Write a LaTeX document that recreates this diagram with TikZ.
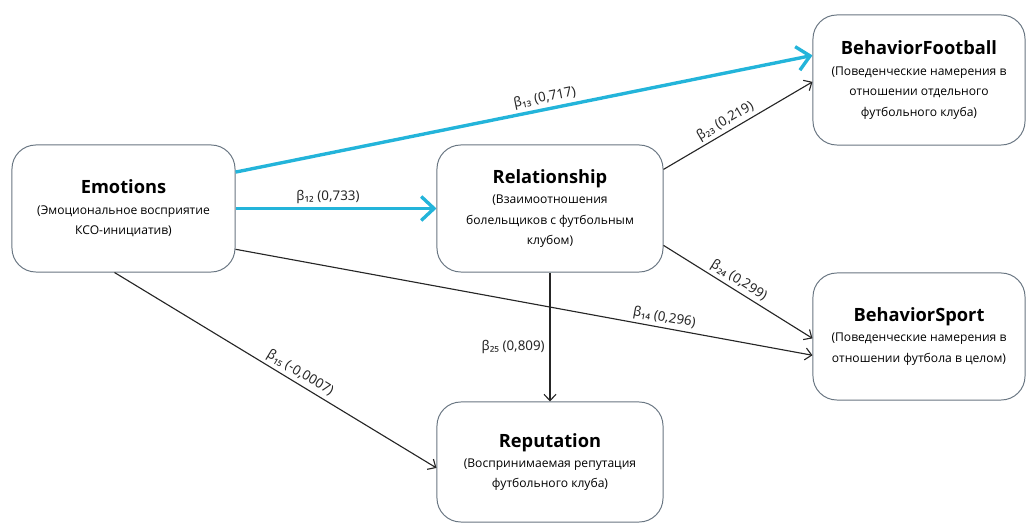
\documentclass[tikz,border=0pt]{standalone}
\usepackage{fontspec}
\setmainfont{Open Sans}
\newfontfamily\coeffont{Noto Sans}
\usetikzlibrary{arrows.meta}
\definecolor{pathcyan}{RGB}{35,180,218}
\definecolor{boxgray}{RGB}{105,118,130}
\newcommand{\cname}[1]{{\fontsize{13}{18}\selectfont\bfseries #1}}

\begin{document}
\begin{tikzpicture}[x=0.025cm,y=-0.025cm, every node/.style={font=\coeffont\fontsize{9.5}{11}\selectfont},
    factor/.style={draw=boxgray, line width=0.7pt, rounded corners=17pt, fill=white, align=center, font=\fontsize{8.6}{14.5}\selectfont},
    strong/.style={pathcyan, line width=2.4pt, -{Straight Barb[length=3.2mm,width=6mm]}},
    weak/.style={black!85, line width=0.8pt, -{Straight Barb[length=1.6mm,width=3mm]}},
    coef/.style={sloped, above, inner sep=2pt, text=black!85}]
    \useasboundingbox (0,0) rectangle (1027,524);
    % constructs
    \node[factor, minimum width=5.575cm, minimum height=3.175cm] (emo) at (123.5,208.5) {\cname{Emotions}\\(Эмоциональное восприятие\\КСО-инициатив)};
    \node[factor, minimum width=5.65cm, minimum height=3.175cm] (rel) at (550,208.5) {\cname{Relationship}\\(Взаимоотношения\\болельщиков с футбольным\\клубом)};
    \node[factor, minimum width=5.3cm, minimum height=3.25cm] (bf) at (919,80) {\cname{BehaviorFootball}\\(Поведенческие намерения в\\отношении отдельного\\футбольного клуба)};
    \node[factor, minimum width=5.3cm, minimum height=3.175cm] (bs) at (919,336.5) {\cname{BehaviorSport}\\(Поведенческие намерения в\\отношении футбола в целом)};
    \node[factor, minimum width=5.65cm, minimum height=3cm] (rep) at (550,462) {\cname{Reputation}\\(Воспринимаемая репутация\\футбольного клуба)};
    % paths
    \draw[strong] (emo.18) -- node[coef, pos=0.54]{β₁₃ (0,717)} (bf.167);
    \draw[strong] (emo.east) -- node[coef, pos=0.46]{β₁₂ (0,733)} (rel.west);
    \draw[weak] (rel.19) -- node[coef, pos=0.45]{β₂₃ (0,219)} (bf.181);
    \draw[weak] (rel.-18) -- node[coef, pos=0.47]{β₂₄ (0,299)} (bs.181);
    \draw[weak] (emo.-20) -- node[coef, pos=0.74]{β₁₄ (0,296)} (bs.190);
    \draw[weak] (rel.south) -- node[left, pos=0.58]{β₂₅ (0,809)} (rep.north);
    \draw[weak] (emo.-98) -- node[coef, pos=0.56]{β₁₅ (-0,0007)} (rep.183);
\end{tikzpicture}
\end{document}
